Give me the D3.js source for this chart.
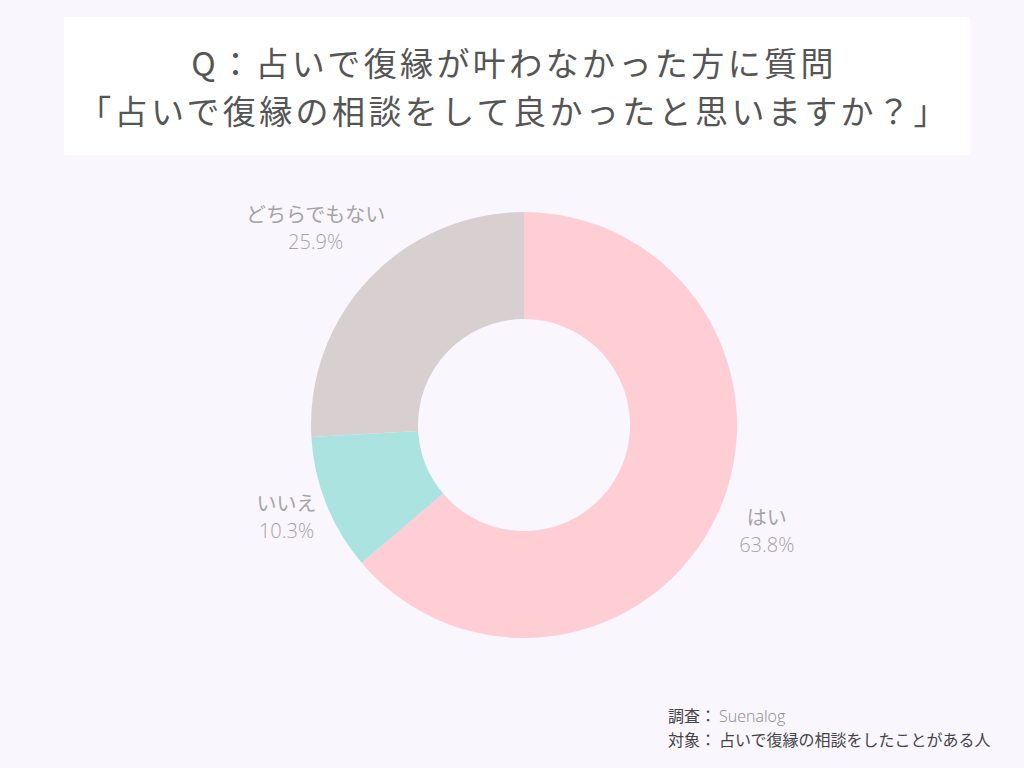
<!DOCTYPE html>
<html lang="ja">
<head>
<meta charset="UTF-8">
<title>占いで復縁の相談</title>
<script src="https://cdn.jsdelivr.net/npm/d3@7.8.5/dist/d3.min.js"></script>
<style>
  * { margin: 0; padding: 0; box-sizing: border-box; }
  body { width: 1024px; height: 768px; background: #f9f6fe; overflow: hidden;
         font-family: 'Noto Sans CJK JP', 'Noto Sans', sans-serif; }
</style>
</head>
<body>
<svg id="chart" width="1024" height="768"></svg>
<script>
// データ
const titleLines = ["Q：占いで復縁が叶わなかった方に質問", "「占いで復縁の相談をして良かったと思いますか？」"];
const labels = ["はい", "いいえ", "どちらでもない"];
const values = [63.8, 10.3, 25.9];
const colors = ["#ffcdd4", "#abe3e1", "#d7cfd0"];
const noteKeys = ["調査：", "対象："];
const noteVals = ["Suenalog", "占いで復縁の相談をしたことがある人"];

const svg = d3.select("#chart");
const W = 1024, H = 768;

svg.append("rect").attr("width", W).attr("height", H).attr("fill", "#f9f6fe");

// タイトル
svg.append("rect")
  .attr("x", 64).attr("y", 17).attr("width", 906).attr("height", 138)
  .attr("fill", "#ffffff");

svg.selectAll(".title")
  .data(titleLines)
  .enter().append("text")
  .attr("class", "title")
  .attr("x", 514)
  .attr("y", (d, i) => 76 + i * 48)
  .attr("text-anchor", "middle")
  .attr("fill", "#555555")
  .style("font-size", "33px")
  .style("font-weight", 400)
  .style("letter-spacing", "3.4px")
  .text(d => d);

// ドーナツ
const cx = 524, cy = 425, outerR = 213, innerR = 106;
const data = labels.map((l, i) => ({ label: l, value: values[i], color: colors[i] }));

const pie = d3.pie().sort(null).value(d => d.value);
const arc = d3.arc().innerRadius(innerR).outerRadius(outerR);
const arcs = pie(data);

const g = svg.append("g").attr("transform", `translate(${cx},${cy})`);
g.selectAll("path")
  .data(arcs)
  .enter().append("path")
  .attr("d", arc)
  .attr("fill", d => d.data.color);

// ラベル位置（外側）
const labelArc = d3.arc().innerRadius(outerR + 60).outerRadius(outerR + 60);
const nudge = [[-5, -9], [16, -9], [-10, -9]];
const lab = g.selectAll(".lab")
  .data(arcs)
  .enter().append("g")
  .attr("class", "lab")
  .attr("transform", (d, i) => {
    const [x, y] = labelArc.centroid(d);
    return `translate(${x + nudge[i][0]},${y + nudge[i][1]})`;
  });

lab.append("text")
  .attr("text-anchor", "middle")
  .attr("y", -6)
  .attr("fill", "#a6a3a6")
  .style("font-size", "20px")
  .text(d => d.data.label);

lab.append("text")
  .attr("text-anchor", "middle")
  .attr("y", 21)
  .attr("fill", "#a6a3a6")
  .style("font-size", "20px")
  .style("font-family", "'Open Sans', 'Noto Sans', sans-serif")
  .style("font-weight", 300)
  .text(d => d3.format(".1f")(d.data.value) + "%");

// 注記
const note = svg.selectAll(".note")
  .data(noteKeys)
  .enter().append("text")
  .attr("class", "note")
  .attr("x", 668)
  .attr("y", (d, i) => 722 + i * 24)
  .style("font-size", "16px");

note.append("tspan")
  .attr("fill", "#444444")
  .text(d => d);

note.append("tspan")
  .attr("dx", 3)
  .attr("fill", (d, i) => i === 0 ? "#8a8a8a" : "#444444")
  .style("font-family", (d, i) => i === 0 ? "'Open Sans', sans-serif" : null)
  .style("font-weight", (d, i) => i === 0 ? 300 : null)
  .text((d, i) => noteVals[i]);
</script>
</body>
</html>
